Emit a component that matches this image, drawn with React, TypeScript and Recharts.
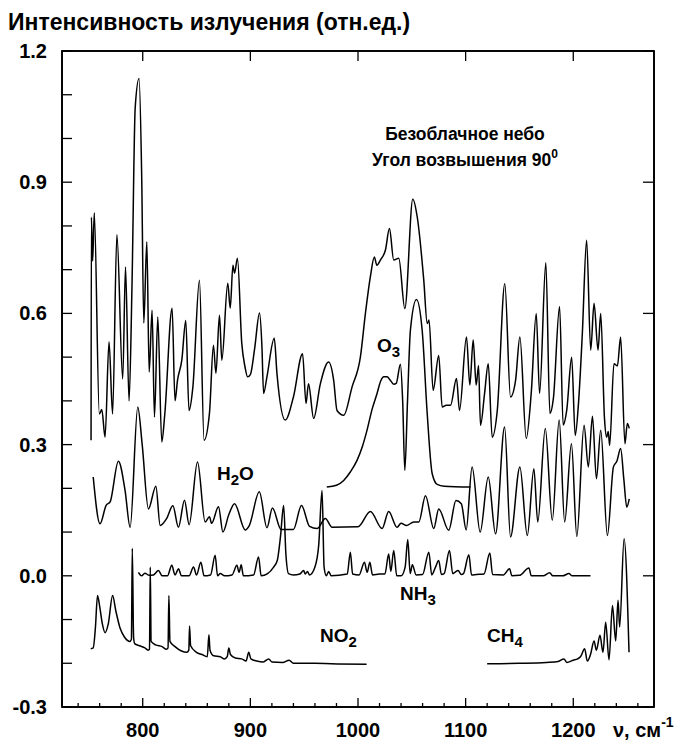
import React from "react";
import { LineChart, Line, XAxis, YAxis } from "recharts";

// wavenumber (cm-1), intensity (rel. units) pairs
const mainSpectrum: [number, number][] = [
  [752, 0.31], [752.3, 0.82], [753.5, 0.72], [755, 0.83], [759.7, 0.37], [762, 0.38], [765, 0.317],
  [768.7, 0.535], [772, 0.37], [776, 0.78], [781.4, 0.45], [784, 0.706], [787.3, 0.4], [790, 0.66],
  [793, 1.07], [796.6, 1.137], [799, 0.92], [801, 0.578], [803.8, 0.764], [806, 0.466], [808.7, 0.607],
  [810.9, 0.363], [814, 0.592], [817.7, 0.306], [820.5, 0.37], [827.3, 0.612], [830, 0.4], [832.3, 0.447],
  [836.3, 0.493], [840, 0.584], [843, 0.378], [846.6, 0.432], [852.7, 0.676], [857, 0.31], [862, 0.372],
  [865.7, 0.527], [868, 0.463], [871.3, 0.596], [873.5, 0.493], [879, 0.669], [881.3, 0.612],
  [883.8, 0.71], [885.3, 0.692], [888, 0.726], [892, 0.532], [895, 0.478], [897.4, 0.455], [900, 0.46],
  [904, 0.52], [908.5, 0.601], [910.7, 0.527], [912.3, 0.417], [915.4, 0.455], [922.2, 0.543],
  [924.7, 0.463], [932.4, 0.356], [940, 0.409], [948.5, 0.508], [951.7, 0.394], [954, 0.439],
  [958.8, 0.36], [965, 0.439], [972.7, 0.489], [977.4, 0.447], [980.5, 0.378], [986.7, 0.367],
  [994.5, 0.432], [1002.2, 0.5], [1006.9, 0.6], [1011.5, 0.684], [1015.2, 0.729], [1017.5, 0.71],
  [1020.8, 0.722], [1025.5, 0.745], [1029.2, 0.794], [1033.2, 0.722], [1037.9, 0.726], [1043.5, 0.611],
  [1050.9, 0.861], [1055, 0.821], [1061.1, 0.676], [1064.3, 0.577], [1066, 0.585], [1069.8, 0.424],
  [1075, 0.504], [1078.2, 0.386], [1082, 0.39], [1086, 0.39], [1091.5, 0.451], [1094.3, 0.378],
  [1100.8, 0.546], [1103.9, 0.436], [1107, 0.539], [1109.8, 0.436], [1112, 0.481], [1113.8, 0.344],
  [1117.6, 0.417], [1121, 0.485], [1124.7, 0.317], [1129.4, 0.378], [1136.4, 0.668], [1141.7, 0.409],
  [1146.4, 0.447], [1150.4, 0.546], [1156.3, 0.314], [1161, 0.42], [1165.6, 0.6], [1168.7, 0.417],
  [1174.5, 0.716], [1178.3, 0.371], [1181.5, 0.405], [1187.3, 0.616], [1190.6, 0.345], [1194, 0.38],
  [1198.5, 0.5], [1201.8, 0.321], [1205, 0.4], [1208.4, 0.553], [1212.4, 0.767], [1216.2, 0.516],
  [1219.3, 0.623], [1223, 0.516], [1225.5, 0.6], [1229, 0.36], [1231, 0.317], [1232.5, 0.33],
  [1233.8, 0.298], [1237.8, 0.485], [1241, 0.48], [1244, 0.546], [1248, 0.302], [1250.2, 0.348],
  [1252, 0.337],
];

const h2o: [number, number][] = [
  [754, 0.226], [760.3, 0.119], [766, 0.161], [769.7, 0.169], [777.4, 0.262], [783.6, 0.195],
  [788.3, 0.111], [795.4, 0.386], [799.5, 0.3], [805.3, 0.153], [812.2, 0.205], [816.2, 0.115],
  [822, 0.13], [828, 0.16], [833.2, 0.111], [838.8, 0.173], [843.1, 0.117], [850.9, 0.26], [858, 0.123],
  [862, 0.135], [864, 0.12], [870.4, 0.158], [874.5, 0.1], [880, 0.14], [885.3, 0.165], [895.2, 0.105],
  [899, 0.115], [908.3, 0.192], [915.4, 0.11], [920.5, 0.155], [928.5, 0.106], [940, 0.106],
  [947.5, 0.161], [955, 0.113], [962, 0.108], [969.7, 0.131], [975.9, 0.111], [1000, 0.112],
  [1011.5, 0.147], [1022.4, 0.108], [1028.5, 0.147], [1036.3, 0.111], [1040, 0.12], [1045, 0.115],
  [1051.8, 0.123], [1056.5, 0.123], [1062.7, 0.183], [1070.4, 0.108], [1075, 0.153], [1084.3, 0.104],
  [1091, 0.172], [1096, 0.165], [1100.5, 0.105], [1106, 0.249], [1113.5, 0.1], [1121, 0.226],
  [1127.8, 0.096], [1136.2, 0.34], [1141.7, 0.089], [1150.4, 0.249], [1157.3, 0.092], [1163.4, 0.245],
  [1167, 0.123], [1174, 0.337], [1180.5, 0.127], [1186.9, 0.356], [1192, 0.123], [1198.3, 0.302],
  [1203.3, 0.09], [1210, 0.344], [1214, 0.249], [1217.8, 0.365], [1221.5, 0.222], [1225.5, 0.333],
  [1231.7, 0.092], [1237.3, 0.249], [1240.5, 0.262], [1244, 0.291], [1247, 0.22], [1249.7, 0.157],
  [1252, 0.176],
];

const o3: [number, number][] = [
  [971, 0.203], [980, 0.207], [986.7, 0.218], [993, 0.238], [999.1, 0.264], [1004, 0.295],
  [1008.4, 0.333], [1013, 0.38], [1017.7, 0.417], [1021, 0.445], [1024, 0.455], [1027, 0.455],
  [1030, 0.447], [1033.2, 0.438], [1035.5, 0.44], [1039.4, 0.484], [1041.5, 0.4], [1043.5, 0.241],
  [1046, 0.4], [1048.7, 0.562], [1054.3, 0.632], [1059.6, 0.562], [1064.3, 0.371], [1068.9, 0.234],
  [1073.6, 0.209], [1080, 0.205], [1104.5, 0.203],
];

const nh3: [number, number][] = [
  [796, 0.008], [799, 0.0], [802, 0.006], [806, 0.001], [810, 0.002], [814.6, 0.012], [818, 0.0],
  [823, 0.0], [827, 0.024], [830, 0.002], [833.2, 0.016], [836, 0.0], [843, 0.0], [847.2, 0.02],
  [850, 0.002], [854, 0.031], [857, 0.0], [863, 0.002], [867.3, 0.047], [869.5, 0.0], [872, 0.005],
  [876, 0.0], [883, 0.002], [887.5, 0.024], [889.5, 0.008], [891.5, 0.025], [893.5, 0.0], [903, 0.002],
  [907.6, 0.043], [910, 0.0], [916, 0.005], [921.6, 0.02], [925, 0.035], [928, 0.09], [930.9, 0.161],
  [933, 0.05], [935.5, 0.005], [940, 0.002], [946, 0.004], [949.5, 0.012], [951, 0.004], [953, 0.01],
  [955, 0.002], [960, 0.02], [963.5, 0.07], [966.6, 0.195], [968.5, 0.02], [970.6, 0.0], [972.8, 0.01],
  [975, 0.0], [990, 0.004], [992.9, 0.054], [995, 0.004], [1001, 0.002], [1006, 0.031], [1008.5, 0.008],
  [1011, 0.031], [1013.5, 0.002], [1020, 0.004], [1025, 0.004], [1028.5, 0.05], [1030.5, 0.01],
  [1033.2, 0.058], [1036, 0.0], [1040, 0.0], [1043.8, 0.02], [1046.2, 0.083], [1048.5, 0.005],
  [1050.5, 0.025], [1054, 0.002], [1060, 0.003], [1065.8, 0.054], [1068.5, 0.002], [1072, 0.02],
  [1075, 0.035], [1077.5, 0.003], [1080, 0.005], [1085, 0.058], [1088, 0.005], [1090, 0.008],
  [1093, 0.012], [1096, 0.003], [1098, 0.005], [1103, 0.048], [1105.5, 0.002], [1110, 0.003],
  [1117, 0.004], [1122.5, 0.052], [1125, 0.003], [1135, 0.002], [1140.8, 0.016], [1143, 0.0],
  [1150, 0.001], [1158.8, 0.018], [1161, 0.0], [1172, 0.0], [1178, 0.007], [1181, 0.0], [1190, 0.0],
  [1196, 0.005], [1199, 0.0], [1216, 0.0],
];

const no2: [number, number][] = [
  [751.7, -0.167], [754, -0.165], [756, -0.12], [758, -0.045], [760, -0.07], [762.5, -0.11],
  [765, -0.13], [768, -0.11], [772, -0.045], [775, -0.08], [779, -0.12], [783, -0.14], [788, -0.15],
  [789.5, -0.145], [790.3, 0.063], [791.5, -0.14], [792.5, -0.155], [797, -0.16], [802, -0.165],
  [805, -0.17], [806.3, -0.168], [807, 0.02], [807.8, -0.15], [812, -0.158], [818, -0.162],
  [822, -0.168], [823.5, -0.165], [824.3, -0.045], [825.3, -0.15], [830, -0.162], [836, -0.172],
  [841, -0.175], [842.8, -0.17], [843.5, -0.115], [844.5, -0.16], [850, -0.175], [855, -0.18],
  [860, -0.185], [861.5, -0.135], [862.5, -0.17], [866, -0.183], [872, -0.185], [876, -0.19],
  [878.5, -0.185], [880, -0.165], [881.5, -0.18], [886, -0.188], [892, -0.19], [896, -0.195],
  [898.5, -0.175], [900.5, -0.19], [906, -0.195], [912, -0.197], [917, -0.19], [920, -0.197],
  [930, -0.198], [936, -0.193], [940, -0.2], [960, -0.2], [975, -0.201], [1008, -0.202],
];

const ch4: [number, number][] = [
  [1120, -0.201], [1150, -0.2], [1175, -0.198], [1186, -0.196], [1191.3, -0.19], [1194, -0.198],
  [1200, -0.193], [1204, -0.19], [1207, -0.184], [1210.6, -0.167], [1213, -0.195], [1216, -0.18],
  [1219.3, -0.149], [1221.5, -0.17], [1224.8, -0.136], [1227.6, -0.175], [1230.1, -0.106],
  [1233.2, -0.192], [1236.4, -0.068], [1239.4, -0.149], [1241.6, -0.056], [1243.1, -0.117],
  [1247.2, 0.085], [1251.8, -0.175],
];

const xDomain: [number, number] = [725, 1275];
const yDomain: [number, number] = [-0.3, 1.2];
const xMinorTicks = [740, 760, 780, 800, 820, 840, 860, 880, 900, 920, 940, 960, 980, 1000, 1020, 1040,
  1060, 1080, 1100, 1120, 1140, 1160, 1180, 1200, 1220, 1240, 1260];
const xMajorTicks = [800, 900, 1000, 1100, 1200];
const yTicks = [-0.3, -0.2, -0.1, 0, 0.1, 0.2, 0.3, 0.4, 0.5, 0.6, 0.7, 0.8, 0.9, 1.0, 1.1, 1.2];
const yMajorTicks = [-0.3, 0, 0.3, 0.6, 0.9, 1.2];
const yMajorLabels = ["-0.3", "0.0", "0.3", "0.6", "0.9", "1.2"];

const W = 686;
const H = 741;
const M = { top: 50, right: 31, bottom: 33, left: 61 }; // + 1px for each axis strip
const plot = { x: M.left + 1, y: M.top + 1, w: W - M.left - M.right - 2, h: H - M.top - M.bottom - 2 };

const FONT = "'Liberation Sans', Arial, sans-serif";
const toPts = (a: [number, number][]) => a.map(([x, y]) => ({ x, y }));
const series = [mainSpectrum, h2o, o3, nh3, no2, ch4].map(toPts);

const BottomTick = (p: any) => {
  const v = p.payload.value;
  const major = xMajorTicks.includes(v);
  return (
    <g>
      <line x1={p.x} x2={p.x} y1={p.y} y2={p.y - (major ? 9 : 4)} stroke="#000" strokeWidth={1.3} />
      {major && (
        <text x={p.x} y={p.y + 30} textAnchor="middle" fontFamily={FONT} fontWeight="bold" fontSize={20} fill="#000">
          {v}
        </text>
      )}
    </g>
  );
};

const TopTick = (p: any) => (
  <line x1={p.x} x2={p.x} y1={p.y} y2={p.y + 10} stroke="#000" strokeWidth={1.3} />
);

const LeftTick = (p: any) => {
  const v = p.payload.value;
  const i = yMajorTicks.findIndex((m) => Math.abs(m - v) < 1e-6);
  return (
    <g>
      <line x1={p.x} x2={p.x + 10} y1={p.y} y2={p.y} stroke="#000" strokeWidth={1.3} />
      {i >= 0 && (
        <text x={p.x - 15} y={p.y + 7} textAnchor="end" fontFamily={FONT} fontWeight="bold" fontSize={20} fill="#000">
          {yMajorLabels[i]}
        </text>
      )}
    </g>
  );
};

const RightTick = (p: any) => (
  <line x1={p.x} x2={p.x - 11} y1={p.y} y2={p.y} stroke="#000" strokeWidth={1.3} />
);

const axisLine = { stroke: "#000", strokeWidth: 1.6 };
const lbl = { fontFamily: FONT, fontWeight: "bold" as const, fill: "#000" };

export default function App() {
  return (
    <div style={{ position: "absolute", left: 0, top: 0, width: W, height: H, background: "#fff" }}>
      <LineChart width={W} height={H} margin={M}>
        <XAxis xAxisId="b" type="number" dataKey="x" domain={xDomain} allowDataOverflow ticks={xMinorTicks}
          interval={0} height={1} tickSize={0} tickMargin={0} axisLine={axisLine} tickLine={false} tick={BottomTick} />
        <XAxis xAxisId="t" orientation="top" type="number" dataKey="x" domain={xDomain} allowDataOverflow
          ticks={xMajorTicks} interval={0} height={1} tickSize={0} tickMargin={0} axisLine={axisLine} tickLine={false} tick={TopTick} />
        <YAxis yAxisId="l" type="number" domain={yDomain} allowDataOverflow ticks={yTicks} interval={0}
          width={1} tickSize={0} tickMargin={0} axisLine={axisLine} tickLine={false} tick={LeftTick} />
        <YAxis yAxisId="r" orientation="right" type="number" domain={yDomain} allowDataOverflow ticks={yMajorTicks}
          interval={0} width={1} tickSize={0} tickMargin={0} axisLine={axisLine} tickLine={false} tick={RightTick} />
        {series.map((d, i) => (
          <Line key={i} xAxisId="b" yAxisId="l" data={d} dataKey="y" type="monotone" dot={false}
            stroke="#000" strokeWidth={1.5} isAnimationActive={false} />
        ))}
      </LineChart>
      <svg width={W} height={H} style={{ position: "absolute", left: 0, top: 0, pointerEvents: "none" }}>
        <rect x={plot.x} y={plot.y} width={plot.w} height={plot.h} fill="none" stroke="#000" strokeWidth={1.8} />
        <text x={8} y={30} fontSize={23} {...lbl}>Интенсивность излучения (отн.ед.)</text>
        <text x={465} y={140} fontSize={17.5} textAnchor="middle" {...lbl}>Безоблачное небо</text>
        <text x={465} y={166} fontSize={17.5} textAnchor="middle" {...lbl}>
          Угол возвышения 90<tspan dy={-8} fontSize={12}>0</tspan>
        </text>
        <text x={377} y={352} fontSize={19} {...lbl}>O<tspan dy={5} fontSize={15}>3</tspan></text>
        <text x={217} y={480} fontSize={19} {...lbl}>H<tspan dy={5} fontSize={15}>2</tspan><tspan dy={-5}>O</tspan></text>
        <text x={400} y={600} fontSize={19} {...lbl}>NH<tspan dy={5} fontSize={15}>3</tspan></text>
        <text x={320} y={642} fontSize={19} {...lbl}>NO<tspan dy={5} fontSize={15}>2</tspan></text>
        <text x={487} y={642} fontSize={19} {...lbl}>CH<tspan dy={5} fontSize={15}>4</tspan></text>
        <text x={613} y={737} fontSize={20} {...lbl}>ν, см<tspan dy={-10} fontSize={14}>-1</tspan></text>
      </svg>
    </div>
  );
}
